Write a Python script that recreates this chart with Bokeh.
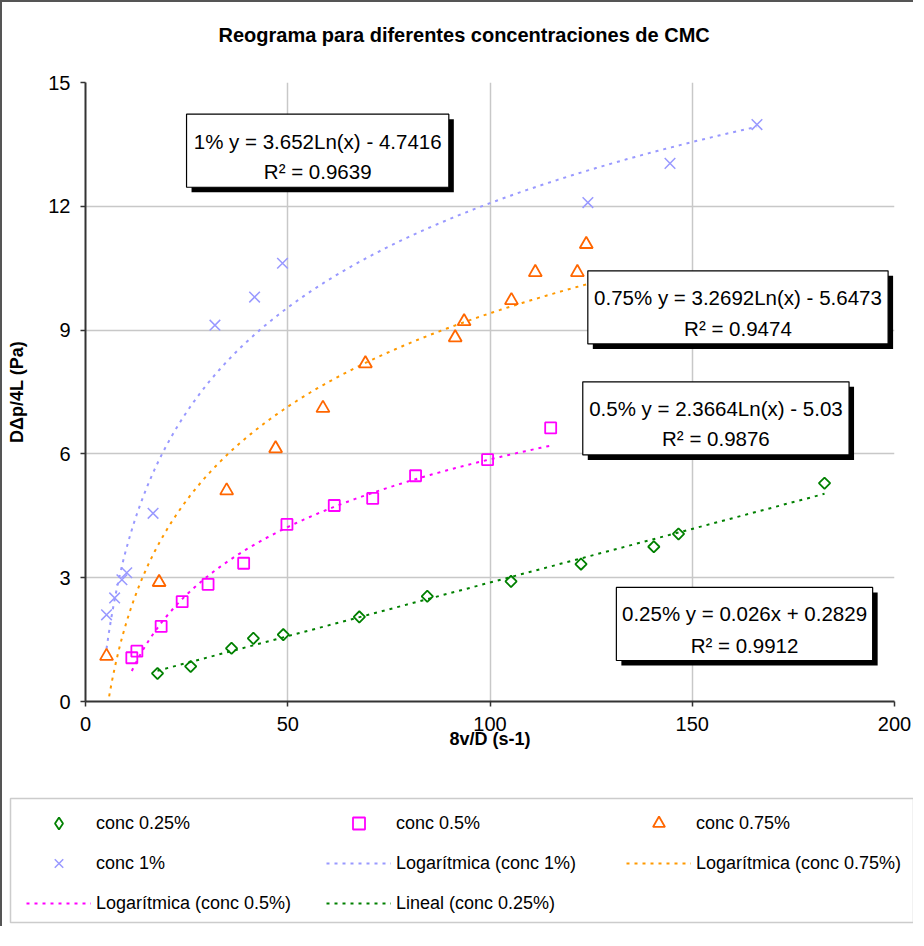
import numpy as np
from bokeh.plotting import figure
from bokeh.layouts import column
from bokeh.models import Label, Legend, LegendItem, FixedTicker, Range1d, BoxAnnotation
from bokeh.embed import file_html
from bokeh.resources import INLINE

# ---------------- data ----------------
x_ticks = [0, 50, 100, 150, 200]
y_ticks = [0, 3, 6, 9, 12, 15]

x_025 = [17.8, 26.0, 36.1, 41.5, 48.9, 67.7, 84.5, 105.2, 122.5, 140.5, 146.6, 182.7]
y_025 = [0.68, 0.85, 1.29, 1.53, 1.62, 2.05, 2.55, 2.91, 3.33, 3.75, 4.06, 5.29]

x_05 = [11.45, 12.7, 18.7, 23.9, 30.3, 39.1, 49.8, 61.5, 71.0, 81.6, 99.4, 115.0]
y_05 = [1.06, 1.22, 1.82, 2.42, 2.84, 3.35, 4.29, 4.75, 4.92, 5.47, 5.86, 6.63]

x_075 = [5.2, 18.2, 34.9, 47.0, 58.7, 69.2, 91.4, 93.6, 105.3, 111.2, 121.6, 123.8]
y_075 = [1.10, 2.89, 5.11, 6.13, 7.11, 8.19, 8.82, 9.21, 9.72, 10.40, 10.40, 11.08]

x_1 = [5.2, 7.2, 9.0, 10.2, 16.7, 32.0, 41.8, 48.7, 124.2, 144.5, 166.0]
y_1 = [2.10, 2.51, 2.95, 3.12, 4.56, 9.12, 9.80, 10.62, 12.09, 13.04, 13.98]

# trendline coefficients shown in the chart
fit_1 = (3.652, -4.7416)      # log
fit_075 = (3.2692, -5.6473)   # log
fit_05 = (2.3664, -5.03)      # log
fit_025 = (0.026, 0.2829)     # linear

eq_texts = [
    ("1% y = 3.652Ln(x) - 4.7416", "R\u00b2 = 0.9639"),
    ("0.75% y = 3.2692Ln(x) - 5.6473", "R\u00b2 = 0.9474"),
    ("0.5% y = 2.3664Ln(x) - 5.03", "R\u00b2 = 0.9876"),
    ("0.25% y = 0.026x + 0.2829", "R\u00b2 = 0.9912"),
]

title_text = "Reograma para diferentes concentraciones de CMC"
x_label = "8v/D (s-1)"
y_label = "D\u0394p/4L (Pa)"
legend_labels = ["conc 0.25%", "conc 0.5%", "conc 0.75%", "conc 1%",
                 "Logar\u00edtmica (conc 1%)", "Logar\u00edtmica (conc 0.75%)",
                 "Logar\u00edtmica (conc 0.5%)", "Lineal (conc 0.25%)"]

# ---------------- styling ----------------
FONT = "Liberation Sans"
C025, C05, C075M, C075L, C1 = "#008000", "#FF00FF", "#FF6600", "#FF9900", "#9999FF"
DASH = "3 5"
BORDER = "2px solid #555555"

W, H0, H1, H2 = 913, 50, 736, 140

def blank_panel(h):
    f = figure(width=W, height=h, x_range=Range1d(0, W), y_range=Range1d(h, 0),
               output_backend="svg", toolbar_location=None,
               x_axis_type=None, y_axis_type=None,
               min_border_left=0, min_border_right=0, min_border_top=0, min_border_bottom=0)
    f.frame_align = False
    f.outline_line_color = None
    f.background_fill_color = "white"
    f.border_fill_color = "white"
    return f

# ---------------- header with title ----------------
hdr = blank_panel(H0)
hdr.styles = {"border-left": BORDER, "border-top": BORDER}
hdr.add_layout(Label(x=216, y=32, text=title_text, text_align="left",
                     text_baseline="middle", text_font=FONT, text_font_size="20px",
                     text_font_style="bold", text_color="black"))

# ---------------- main chart ----------------
p = figure(width=W, height=H1, x_range=Range1d(0, 200), y_range=Range1d(0, 15),
           output_backend="svg", toolbar_location=None,
           min_border_left=83, min_border_right=21, min_border_top=32, min_border_bottom=85)
p.frame_align = False
p.styles = {"border-left": BORDER}
p.outline_line_color = None
p.background_fill_color = "white"
p.border_fill_color = "white"

p.xaxis.ticker = FixedTicker(ticks=x_ticks)
p.yaxis.ticker = FixedTicker(ticks=y_ticks)
for ax in (p.xaxis[0], p.yaxis[0]):
    ax.axis_line_color = "#333333"
    ax.axis_line_width = 2
    ax.major_tick_line_color = "#333333"
    ax.major_tick_line_width = 1.5
    ax.major_tick_out = 5
    ax.major_tick_in = 0
    ax.minor_tick_line_color = None
    ax.major_label_text_font = FONT
    ax.major_label_text_font_size = "20px"
    ax.major_label_text_color = "black"
    ax.major_label_standoff = 10
    ax.axis_label_text_font = FONT
    ax.axis_label_text_font_size = "18px"
    ax.axis_label_text_font_style = "bold"
    ax.axis_label_text_color = "black"
p.xaxis.axis_label = x_label
p.yaxis.axis_label = y_label
p.xaxis.axis_label_standoff = -5
p.yaxis.axis_label_standoff = 18

for g in (p.xgrid[0], p.ygrid[0]):
    g.grid_line_color = "#c8c8c8"
    g.grid_line_width = 1.5
p.xgrid.ticker = FixedTicker(ticks=x_ticks)
p.ygrid.ticker = FixedTicker(ticks=y_ticks)

# ---------------- trendlines ----------------
def log_curve(xs, fit):
    t = np.linspace(min(xs), max(xs), 300)
    return t, fit[0] * np.log(t) + fit[1]

def lin_curve(xs, fit):
    t = np.array([min(xs), max(xs)])
    return t, fit[0] * t + fit[1]

tx, ty = log_curve(x_1, fit_1)
p.line(tx, ty, line_color=C1, line_dash=DASH, line_width=2)
tx, ty = log_curve(x_075, fit_075)
p.line(tx, ty, line_color=C075L, line_dash=DASH, line_width=2)
tx, ty = log_curve(x_05, fit_05)
p.line(tx, ty, line_color=C05, line_dash=DASH, line_width=2)
tx, ty = lin_curve(x_025, fit_025)
p.line(tx, ty, line_color=C025, line_dash=DASH, line_width=2)

# ---------------- markers ----------------
MK = {
    "025": dict(marker="square", angle=np.pi / 4, size=8, fill_color=None, line_color=C025, line_width=1.8),
    "05": dict(marker="square", size=11, fill_color=None, line_color=C05, line_width=1.8),
    "075": dict(marker="triangle", size=13, fill_color=None, line_color=C075M, line_width=1.8),
    "1": dict(marker="x", size=15, line_color=C1, line_width=1.5),
}
p.scatter(x_025, y_025, **MK["025"])
p.scatter(x_05, y_05, **MK["05"])
p.scatter(x_075, y_075, **MK["075"])
p.scatter(x_1, y_1, **MK["1"])

# ---------------- equation boxes ----------------
def make_box(xc, yc, w, h, fill, line, dx=0, dy=0):
    ph = int(round(w / 2))
    pv = int(round((h - 1) / 2))
    return Label(x=xc, y=yc, text=" ", text_font=FONT, text_font_size="1px",
                 text_align="center", text_baseline="middle",
                 x_offset=dx, y_offset=dy,
                 background_fill_color=fill, border_line_color=line, border_line_width=1.2,
                 padding=dict(left=ph, right=ph, top=pv, bottom=pv))

# (center x, center y, width px, height px, baseline line1, baseline line2)
box_specs = [
    (57.40, 13.347, 262, 73, 13.563, 12.836),
    (161.3, 9.55, 301, 73, 9.79, 9.03),
    (155.85, 6.861, 266, 73, 7.102, 6.369),
    (162.92, 1.879, 257, 73, 2.131, 1.356),
]
for (xc, yc, w, h, b1, b2), (t1, t2) in zip(box_specs, eq_texts):
    p.add_layout(make_box(xc, yc, w, h, "black", None, dx=5, dy=-5))
    p.add_layout(make_box(xc, yc, w, h, "white", "black"))
    for yy, tt in ((b1, t1), (b2, t2)):
        p.add_layout(Label(x=xc, y=yy, text=tt, text_align="center",
                           text_baseline="alphabetic", text_font=FONT,
                           text_font_size="20.5px", text_color="black"))

# ---------------- legend panel ----------------
q = blank_panel(H2)
q.styles = {"border-left": BORDER}
q.add_layout(BoxAnnotation(left=8, right=911, top=12, bottom=136,
                           fill_alpha=0, line_color="#555555", line_width=1.5))

# legend proxies (kept outside the visible range; they only carry the styles)
off = [-1000]
pr = [
    q.scatter(off, off, marker="diamond", fill_color=None, line_color=C025, line_width=1.8),
    q.scatter(off, off, **MK["05"]),
    q.scatter(off, off, **MK["075"]),
    q.scatter(off, off, **MK["1"]),
    q.line(off, off, line_color=C1, line_dash=DASH, line_width=2),
    q.line(off, off, line_color=C075L, line_dash=DASH, line_width=2),
    q.line(off, off, line_color=C05, line_dash=DASH, line_width=2),
    q.line(off, off, line_color=C025, line_dash=DASH, line_width=2),
]
items = [LegendItem(label=lab, renderers=[r]) for lab, r in zip(legend_labels, pr)]
legend = Legend(items=items, orientation="horizontal", ncols=3,
                location=(24, 8),
                glyph_width=65, glyph_height=30, label_height=30, label_width=220,
                label_standoff=5, spacing=10, padding=5, margin=0,
                label_text_font=FONT, label_text_font_size="18px",
                label_text_color="black",
                background_fill_alpha=0, border_line_color=None)
q.add_layout(legend, "center")

layout = column(hdr, p, q, spacing=0)
open("out.html", "w").write(file_html(layout, INLINE))
